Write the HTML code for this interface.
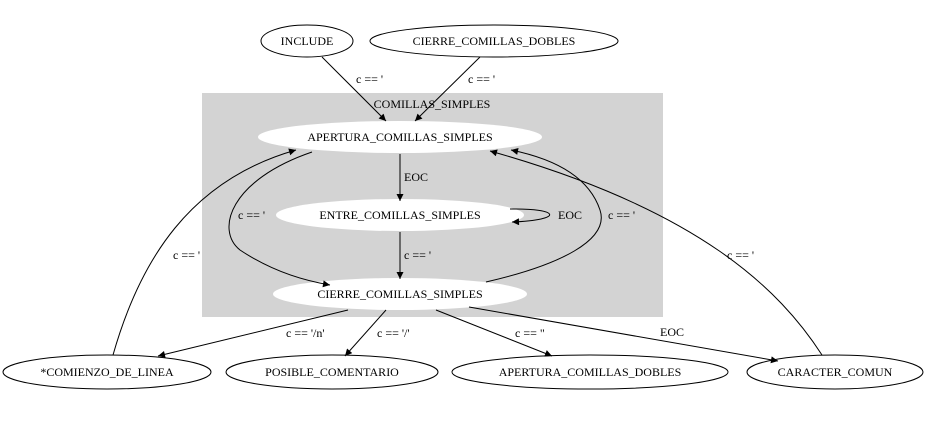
<!DOCTYPE html>
<html><head><meta charset="utf-8"><style>
html,body{margin:0;padding:0;background:#fff;}
svg text{font-family:"Liberation Serif",serif;font-size:12px;fill:#000;}
</style></head><body>
<svg width="929" height="430" viewBox="0 0 929 430" xmlns="http://www.w3.org/2000/svg">
<defs>
<marker id="a" viewBox="0 0 10 10" refX="10" refY="5" markerWidth="10" markerHeight="7" markerUnits="userSpaceOnUse" orient="auto">
<path d="M0,0 L10,5 L0,10 z" fill="#000"/>
</marker>
</defs>
<rect x="202" y="93" width="461" height="224" fill="#d3d3d3"/>
<text x="432" y="108" text-anchor="middle">COMILLAS_SIMPLES</text>

<g fill="none" stroke="#000" stroke-width="1">
<ellipse cx="307" cy="41" rx="46" ry="16"/>
<ellipse cx="494" cy="41" rx="124" ry="16"/>
<ellipse cx="107" cy="372" rx="104" ry="17"/>
<ellipse cx="332" cy="372" rx="106" ry="17"/>
<ellipse cx="590" cy="372" rx="138" ry="17"/>
<ellipse cx="835" cy="372" rx="88" ry="17"/>
</g>
<g fill="#fff" stroke="none">
<ellipse cx="400" cy="137" rx="142" ry="16"/>
<ellipse cx="400" cy="215" rx="124" ry="16"/>
<ellipse cx="400" cy="294" rx="127" ry="16"/>
</g>

<g fill="none" stroke="#000" stroke-width="1" marker-end="url(#a)">
<path d="M322,57 L386,121"/>
<path d="M480,57 L415,121"/>
<path d="M400,154 L400,201"/>
<path d="M510,209 C560,208 565,220 512,222"/>
<path d="M400,232 L400,279"/>
<path d="M312,152 C230,180 215,230 240,250 C270,270 300,280 330,285"/>
<path d="M486,282 C560,265 610,240 600,210 C590,180 560,160 511,150"/>
<path d="M822,355 C780,290 700,210 490,151"/>
<path d="M113,355 C140,260 190,180 296,150"/>
<path d="M348,310 L158,356"/>
<path d="M386,310 L345,356"/>
<path d="M436,310 L552,356"/>
<path d="M469,307 L778,361"/>
</g>

<g text-anchor="middle">
<text x="307" y="45">INCLUDE</text>
<text x="494" y="45">CIERRE_COMILLAS_DOBLES</text>
<text x="400" y="141">APERTURA_COMILLAS_SIMPLES</text>
<text x="400" y="219">ENTRE_COMILLAS_SIMPLES</text>
<text x="400" y="298">CIERRE_COMILLAS_SIMPLES</text>
<text x="107" y="376">*COMIENZO_DE_LINEA</text>
<text x="332" y="376">POSIBLE_COMENTARIO</text>
<text x="590" y="376">APERTURA_COMILLAS_DOBLES</text>
<text x="835" y="376">CARACTER_COMUN</text>
</g>
<g>
<text x="356" y="83">c == '</text>
<text x="468" y="83">c == '</text>
<text x="404" y="181">EOC</text>
<text x="558" y="219">EOC</text>
<text x="404" y="259">c == '</text>
<text x="238" y="219">c == '</text>
<text x="608" y="219">c == '</text>
<text x="173" y="259">c == '</text>
<text x="727" y="259">c == '</text>
<text x="286" y="337">c == '/n'</text>
<text x="377" y="337">c == '/'</text>
<text x="515" y="337">c == "</text>
<text x="660" y="336">EOC</text>
</g>
</svg>
</body></html>
